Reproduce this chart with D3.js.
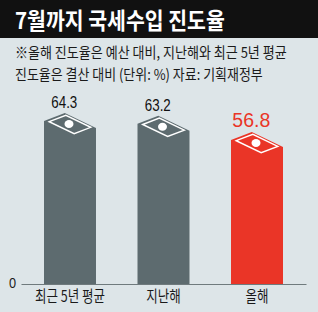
<!DOCTYPE html>
<html><head><meta charset="utf-8">
<script src="https://cdn.jsdelivr.net/npm/d3@7"></script>
<style>
html,body{margin:0;padding:0;background:#dde5e8;}
svg{display:block;font-family:"Noto Sans CJK KR","Noto Sans",sans-serif;}
</style></head>
<body><svg id="c" width="318" height="312"></svg>
<script>
const title = "7월까지 국세수입 진도율";
const notes = ["※올해 진도율은 예산 대비, 지난해와 최근 5년 평균", "진도율은 결산 대비 (단위: %) 자료: 기획재정부"];
const categories = ["최근 5년 평균", "지난해", "올해"];
const values = [64.3, 63.2, 56.8];
const highlight = [false, false, true];
const yTicks = [0];

const W = 318, H = 312;
const svg = d3.select("#c");
svg.append("rect").attr("width", W).attr("height", H).attr("fill", "#dde5e8");
svg.append("rect").attr("width", W).attr("height", 38).attr("fill", "#111111");

// horizontally squeeze a left-anchored text to a target width via a transform
function squeezeLeft(parent, str, x0, y0, width, attrs) {
  const g = parent.append("g");
  const t = g.append("text").text(str).attr("x", 0).attr("y", 0);
  for (const k in attrs) t.attr(k, attrs[k]);
  const n = t.node().getComputedTextLength();
  g.attr("transform", `translate(${x0},${y0}) scale(${width / n},1)`);
  return t;
}
function condense(sel, f) {
  sel.each(function() {
    const el = d3.select(this);
    const tr = el.attr("transform") || "";
    el.attr("transform", tr + ` scale(${f},1)`);
  });
}

squeezeLeft(svg, title, 15, 28.5, 210, {fill: "#fff", "font-size": 23, "font-weight": "bold"});

const noteW = [272, 248];
notes.forEach((s, i) => squeezeLeft(svg, s, 15, 58 + i * 22, noteW[i], {fill: "#1a1a1a", "font-size": 15}));

const x = d3.scaleBand().domain(categories).range([21, 306]).paddingInner(0.444).paddingOuter(0.246);
const y = d3.scaleLinear().domain([0, 100]).range([284, 30.5]);

const data = categories.map((c, i) => ({c, v: values[i], h: highlight[i]}));
const grey = "#5d6b6f", red = "#ea3527";

// baseline axis
const xAxis = svg.append("g").attr("transform", `translate(0,${y(0)})`)
  .call(d3.axisBottom(x).tickSize(0).tickPadding(6.5));
xAxis.select(".domain").attr("stroke", "#6f7a7d").attr("stroke-width", 1.2);
xAxis.selectAll("text").attr("font-size", 16).attr("fill", "#1a1a1a")
  .attr("font-family", "'Noto Sans CJK KR',sans-serif").call(condense, 0.78);

const yAxis = svg.append("g").attr("transform", "translate(17,0)")
  .call(d3.axisLeft(y).tickValues(yTicks).tickSize(0).tickPadding(1));
yAxis.select(".domain").remove();
yAxis.selectAll("text").attr("font-size", 15).attr("fill", "#1a1a1a")
  .attr("font-family", "'Liberation Sans',Arial,sans-serif").attr("dy", "0.2em").call(condense, 0.85);

const bw = x.bandwidth();
const dx = bw * 0.4, dyBack = 8, dyRight = 7;

const g = svg.selectAll("g.bar").data(data).join("g").attr("class", "bar");
g.append("path").attr("fill", d => d.h ? red : grey)
  .attr("d", d => {
    const x0 = x(d.c), yt = y(d.v), b = y(0);
    return `M${x0},${b}L${x0},${yt}L${x0 + dx},${yt - dyBack}L${x0 + bw},${yt + dyRight}L${x0 + bw},${b}Z`;
  });
g.append("path").attr("fill", "none").attr("stroke", "#fff").attr("stroke-width", 1.4)
  .attr("d", d => {
    const x0 = x(d.c), yt = y(d.v);
    const cx = x0 + bw / 2, cy = yt + dyRight / 2;
    const s = 0.8;
    const pts = [[x0, yt], [x0 + dx, yt - dyBack], [x0 + bw, yt + dyRight], [x0 + bw - dx, yt + dyRight + dyBack]]
      .map(p => [cx + (p[0] - cx) * s, cy + (p[1] - cy) * s]);
    return "M" + pts.map(p => p.join(",")).join("L") + "Z";
  });
g.append("ellipse").attr("fill", "#fff")
  .attr("cx", d => x(d.c) + bw / 2 - 1).attr("cy", d => y(d.v) + dyRight / 2 - 0.5)
  .attr("rx", 4.5).attr("ry", 4);

g.append("text").text(d => d.v.toFixed(1))
  .attr("x", d => x(d.c) + dx - 0.5).attr("y", d => y(d.v) - dyBack - 5)
  .attr("text-anchor", "middle").attr("font-family", "'Liberation Sans',Arial,sans-serif")
  .attr("font-size", d => d.h ? 20 : 17).attr("fill", d => d.h ? red : "#111")
  .attr("textLength", d => d.h ? 38 : 26).attr("lengthAdjust", "spacingAndGlyphs");
</script></body></html>
